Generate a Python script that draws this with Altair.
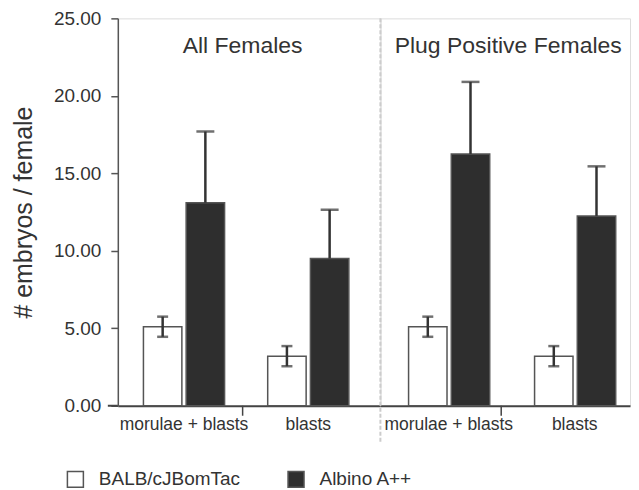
import altair as alt
import pandas as pd

panels = ["All Females", "Plug Positive Females"]
categories = ["morulae + blasts", "blasts"]
strains = ["BALB/cJBomTac", "Albino A++"]
balb_mean = [5.1, 3.2, 5.1, 3.2]
balb_err = [0.65, 0.65, 0.65, 0.65]
albino_mean = [13.1, 9.5, 16.25, 12.25]
albino_err = [4.6, 3.15, 4.65, 3.2]
y_ticks = [0, 5, 10, 15, 20, 25]

rows = []
for i, p in enumerate(panels):
    for j, c in enumerate(categories):
        k = i * 2 + j
        rows.append(dict(panel=p, cat=c, strain=strains[0], mean=balb_mean[k],
                         lo=balb_mean[k] - balb_err[k], hi=balb_mean[k] + balb_err[k]))
        rows.append(dict(panel=p, cat=c, strain=strains[1], mean=albino_mean[k],
                         lo=albino_mean[k], hi=albino_mean[k] + albino_err[k]))
df = pd.DataFrame(rows)

H = 388
TEXT = "#333333"
FONT = "Liberation Sans"
BAR_DARK = "#2e2e2e"

yscale = alt.Scale(domain=[0, 25], nice=False, zero=True)

legend = alt.Legend(
    title=None, orient="none", legendX=-52, legendY=452, direction="horizontal",
    symbolType="square", symbolSize=256, symbolStrokeColor="#555555",
    symbolStrokeWidth=1.5, labelFontSize=19, labelColor=TEXT, labelFont=FONT,
    columnPadding=44, labelOffset=14,
)


def yenc(field, show_y):
    if show_y:
        ax = alt.Axis(
            title="# embryos / female", values=y_ticks, format=".2f", tickSize=7,
            tickColor="#555555", tickWidth=1.5, domainColor="#555555", domainWidth=1.5,
            labelFontSize=19, labelColor=TEXT, labelFont=FONT, labelPadding=10,
            titleFontSize=25, titleFontWeight="normal", titleColor=TEXT, titleFont=FONT,
            titlePadding=17, grid=False,
        )
    else:
        ax = None
    return alt.Y(f"{field}:Q", scale=yscale, axis=ax, title="# embryos / female")


def panel(p, width, pad_inner, pad_outer, align, tick_px, show_y, title_x):
    xscale = alt.Scale(domain=categories, paddingInner=pad_inner,
                       paddingOuter=pad_outer, align=align)
    xaxis = alt.Axis(title=None, ticks=False, labelFontSize=17.5, labelColor=TEXT,
                     labelFont=FONT, labelPadding=10, domainColor="#444444",
                     domainWidth=2, labelAngle=0, grid=False)
    x = alt.X("cat:N", scale=xscale, axis=xaxis, title=None)
    xo = alt.XOffset("strain:N", scale=alt.Scale(domain=strains, paddingInner=0.1,
                                                  paddingOuter=0))
    d = df[df.panel == p]
    base = alt.Chart(d)
    bars = base.mark_bar(stroke="#555555", strokeWidth=1.5).encode(
        x=x, xOffset=xo, y=yenc("mean", show_y),
        fill=alt.Fill("strain:N", scale=alt.Scale(domain=strains,
                                                  range=["#ffffff", BAR_DARK]),
                      legend=legend),
    )
    err = base.mark_rule(color="#333333", strokeWidth=2.5).encode(
        x=x, xOffset=xo, y=yenc("lo", show_y), y2="hi:Q")
    cap_hi_w = base.transform_filter(alt.datum.strain == strains[0]).mark_tick(
        color="#333333", thickness=2.5, size=11).encode(
        x=x, xOffset=xo, y=yenc("hi", show_y))
    cap_lo_w = base.transform_filter(alt.datum.strain == strains[0]).mark_tick(
        color="#333333", thickness=2.5, size=11).encode(
        x=x, xOffset=xo, y=yenc("lo", show_y))
    cap_hi_b = base.transform_filter(alt.datum.strain == strains[1]).mark_tick(
        color="#333333", thickness=2.5, size=18).encode(
        x=x, xOffset=xo, y=yenc("hi", show_y))
    deco = pd.DataFrame({"t": [p]})
    tick = alt.Chart(deco).mark_rule(color="#444444", strokeWidth=1.5).encode(
        x=alt.value(tick_px), y=alt.value(H), y2=alt.value(H + 10))
    title = alt.Chart(deco).mark_text(
        fontSize=23, font=FONT, color=TEXT, baseline="middle", align="center").encode(
        text="t:N", x=alt.value(title_x), y=alt.value(28))
    layers = [bars, err, cap_hi_w, cap_lo_w, cap_hi_b, tick, title]
    if not show_y:
        sep = alt.Chart(deco).mark_rule(
            color="#cccccc", strokeWidth=2, strokeDash=[4, 2]).encode(
            x=alt.value(0), y=alt.value(0), y2=alt.value(H + 36))
        layers = [sep] + layers
    else:
        stub = alt.Chart(deco).mark_rule(color="#444444", strokeWidth=2).encode(
            x=alt.value(-10), x2=alt.value(0), y=alt.value(H))
        layers = layers + [stub]
    return alt.layer(*layers).properties(width=width, height=H)


left = panel(panels[0], 263, 0.347, 0.23, 0.448, 125, True, 125)
right = panel(panels[1], 250, 0.363, 0.172, 0.65, 121, False, 128)

chart = alt.hconcat(left, right, spacing=0, bounds="flush").resolve_scale(
    fill="shared"
).properties(
    padding={"left": 2, "top": 0, "right": 0, "bottom": 0}
).configure_view(strokeWidth=0).configure(background="white")

chart.save("out.html", embed_options={"renderer": "svg", "actions": False})
